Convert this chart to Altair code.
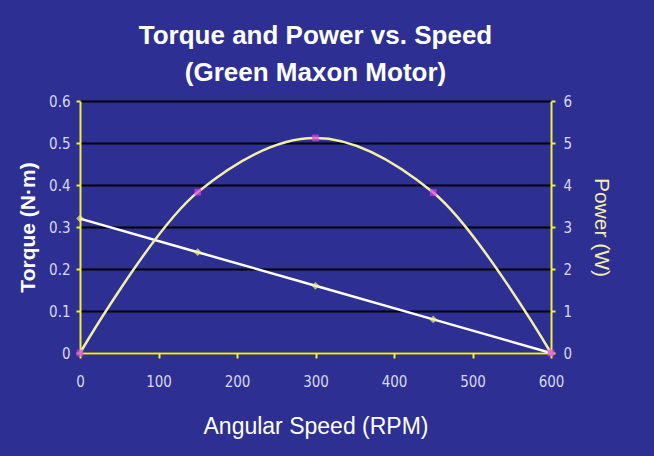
import altair as alt
import pandas as pd

speed = [0, 150, 300, 450, 600]
torque = [0.32, 0.24, 0.16, 0.08, 0.0]
power = [0.0, 3.83, 5.12, 3.82, 0.0]

df = pd.DataFrame({"speed": speed, "torque": torque, "power": power})

BG = "#2D2F93"
YEL = "#F2EE3A"
LBL = "#D8D8F0"
FONT = "DejaVu Sans Condensed, Liberation Sans"

x = alt.X("speed:Q", title="Angular Speed (RPM)",
          scale=alt.Scale(domain=[0, 600], nice=False),
          axis=alt.Axis(values=[0, 100, 200, 300, 400, 500, 600], grid=False, labelFlush=False,
                        domainColor=YEL, domainWidth=2, tickColor=YEL, tickSize=5, tickWidth=2,
                        labelColor=LBL, labelFont=FONT, labelFontSize=15, labelPadding=16,
                        titleColor="white", titleFont="Liberation Sans", titleFontSize=23,
                        titleFontWeight="normal", titlePadding=26))

base = alt.Chart(df)

torque_line = base.mark_line(color="white", strokeWidth=2.5).encode(
    x=x,
    y=alt.Y("torque:Q", title="Torque (N·m)",
            scale=alt.Scale(domain=[0, 0.6], nice=False),
            axis=alt.Axis(values=[0, 0.1, 0.2, 0.3, 0.4, 0.5, 0.6], format="~g", grid=True,
                          gridColor="black", gridWidth=2, labelFlush=False,
                          domainColor=YEL, domainWidth=2, tickColor=YEL, tickSize=4, tickWidth=2,
                          labelColor=LBL, labelFont=FONT, labelFontSize=15, labelPadding=6,
                          titleColor="white", titleFont="Liberation Sans", titleFontSize=21,
                          titleFontWeight="bold", titlePadding=10)),
)
torque_pts = base.mark_point(shape="diamond", filled=True, color="#F0F080", size=60).encode(
    x="speed:Q", y="torque:Q")

power_line = base.mark_line(color="#F3EFA8", strokeWidth=2.5, interpolate="catmull-rom").encode(
    x="speed:Q",
    y=alt.Y("power:Q", title="Power (W)",
            scale=alt.Scale(domain=[0, 6], nice=False),
            axis=alt.Axis(orient="right", values=[0, 1, 2, 3, 4, 5, 6], grid=False, labelFlush=False,
                          domainColor=YEL, domainWidth=2, tickColor=YEL, tickSize=4, tickWidth=2,
                          labelColor=LBL, labelFont=FONT, labelFontSize=15, labelPadding=8,
                          titleColor="#F3EFA8", titleFont="Liberation Sans", titleFontSize=21,
                          titleFontWeight="normal", titlePadding=19)),
)
power_pts = base.mark_point(shape="square", filled=True, color="#E040E0", size=45).encode(
    x="speed:Q", y="power:Q")

left = alt.layer(torque_line, torque_pts)
right = alt.layer(power_line, power_pts)

chart = alt.layer(left, right).resolve_scale(y="independent").properties(
    width=471, height=252,
    background=BG,
    padding={"left": 80, "top": 101, "right": 103, "bottom": 103},
    autosize=alt.AutoSizeParams(type="none"),
    title=alt.Title(["Torque and Power vs. Speed", "(Green Maxon Motor)"],
                    color="white", font="Liberation Sans", fontSize=26, fontWeight="bold",
                    lineHeight=37, offset=8, anchor="middle"),
).configure_view(stroke=None)

chart.save("out.html", embed_options={"renderer": "svg", "actions": False})
